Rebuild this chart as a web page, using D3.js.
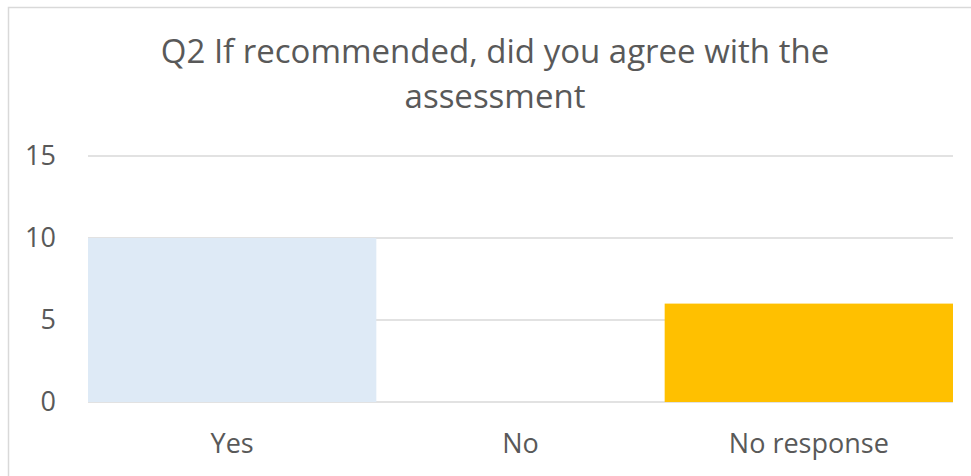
<!DOCTYPE html>
<html>
<head>
<meta charset="utf-8">
<script src="https://cdn.jsdelivr.net/npm/d3@7"></script>
<style>
  body { margin: 0; background: #fff; }
  text { font-family: "Open Sans", sans-serif; fill: #595959; }
</style>
</head>
<body>
<div id="chart"></div>
<script>
// chart data
var categories = ['Yes', 'No', 'No response'];
var values = [10, 0, 6];
var barColors = ['#DEEAF6', '#DEEAF6', '#FFC000'];
var yTicks = [0, 5, 10, 15];
var titleLines = ['Q2 If recommended, did you agree with the', 'assessment'];

var width = 971, height = 476;
var margin = { left: 88, right: 18, top: 156, bottom: 74 };

var svg = d3.select('#chart').append('svg')
    .attr('width', width)
    .attr('height', height);

// outer chart border (runs off the right/bottom edge like the original)
svg.append('rect')
    .attr('x', 8.5).attr('y', 7.5)
    .attr('width', width + 10).attr('height', height + 10)
    .attr('fill', 'none')
    .attr('stroke', '#D9D9D9')
    .attr('stroke-width', 1.5);

var x = d3.scaleBand()
    .domain(categories)
    .range([margin.left, width - margin.right])
    .padding(0);

var y = d3.scaleLinear()
    .domain([0, 15])
    .range([height - margin.bottom, margin.top]);

// gridlines
svg.append('g')
    .selectAll('line')
    .data(yTicks)
    .enter()
    .append('line')
    .attr('x1', margin.left)
    .attr('x2', width - margin.right)
    .attr('y1', function(d) { return y(d); })
    .attr('y2', function(d) { return y(d); })
    .attr('stroke', '#D9D9D9')
    .attr('stroke-width', 1.5);

// bars
svg.append('g')
    .selectAll('rect')
    .data(values)
    .enter()
    .append('rect')
    .attr('x', function(d, i) { return x(categories[i]); })
    .attr('width', x.bandwidth())
    .attr('y', function(d) { return y(d); })
    .attr('height', function(d) { return y(0) - y(d); })
    .attr('fill', function(d, i) { return barColors[i]; });

// y axis labels
var yAxis = d3.axisLeft(y).tickValues(yTicks).tickSize(0).tickPadding(32);
svg.append('g')
    .attr('transform', 'translate(' + margin.left + ',0)')
    .call(yAxis)
    .call(function(g) { g.select('.domain').remove(); })
    .selectAll('text')
    .attr('font-size', 27)
    .attr('fill', '#595959')
    .style('font-family', '"Open Sans", sans-serif');

// x axis labels
var xAxis = d3.axisBottom(x).tickSize(0).tickPadding(32);
svg.append('g')
    .attr('transform', 'translate(0,' + y(0) + ')')
    .call(xAxis)
    .call(function(g) { g.select('.domain').remove(); })
    .selectAll('text')
    .attr('font-size', 27)
    .attr('fill', '#595959')
    .style('font-family', '"Open Sans", sans-serif');

// title
svg.append('g')
    .selectAll('text')
    .data(titleLines)
    .enter()
    .append('text')
    .attr('x', 495)
    .attr('y', function(d, i) { return 63 + i * 45; })
    .attr('text-anchor', 'middle')
    .attr('font-size', 33)
    .text(function(d) { return d; });
</script>
</body>
</html>
